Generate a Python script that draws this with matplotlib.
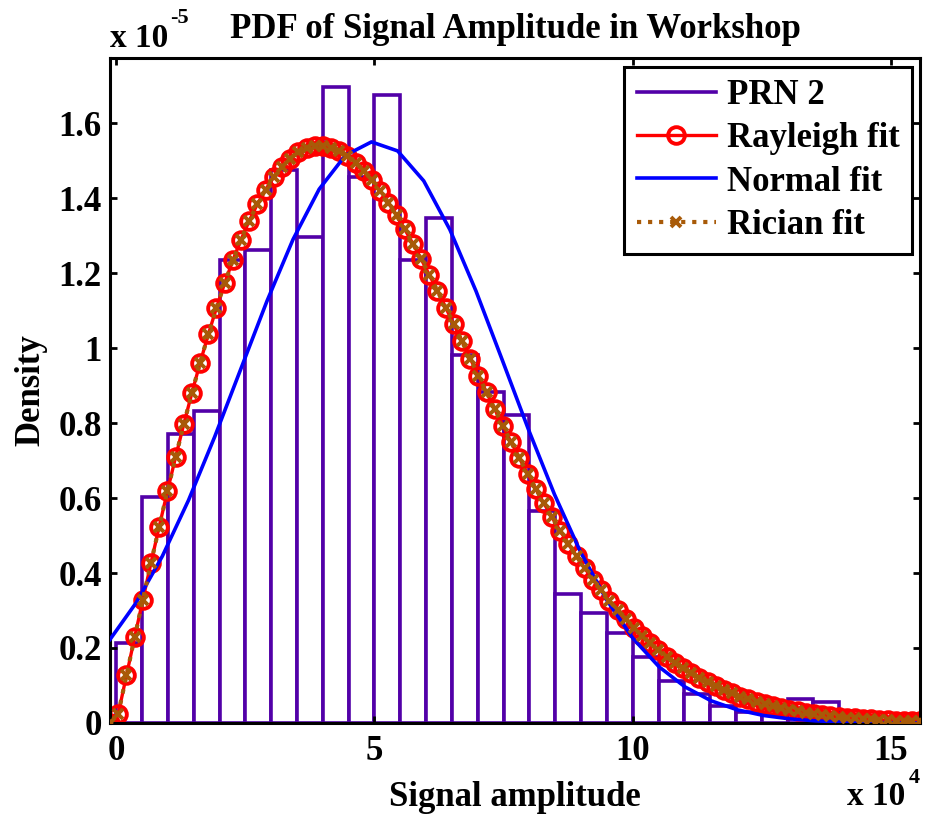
import matplotlib
matplotlib.use('Agg')
import matplotlib.pyplot as plt
from matplotlib.lines import Line2D
import numpy as np

plt.rcParams['font.family'] = ['Liberation Serif', 'DejaVu Serif']
plt.rcParams['font.weight'] = 'bold'

# amplitude in units of 1e4, density in units of 1e-5
bin_edges = np.arange(0, 15.51, 0.5)
prn2_density = [0.214, 0.602, 0.771, 0.833, 1.234, 1.262, 1.476, 1.297, 1.697, 1.456,
                1.674, 1.234, 1.346, 0.981, 0.883, 0.822, 0.565, 0.343, 0.293, 0.241,
                0.175, 0.112, 0.077, 0.045, 0.028, 0.020, 0.064, 0.057, 0.010, 0.006,
                0.004]

fit_x = np.linspace(-0.12, 15.57, 100)
rayleigh_pdf = [0.0, 0.0248, 0.1267, 0.2281, 0.3283, 0.4269, 0.5235, 0.6176, 0.7088, 0.7966,
                0.8807, 0.9607, 1.0363, 1.1073, 1.1732, 1.2341, 1.2896, 1.3396, 1.3841, 1.4229,
                1.4561, 1.4836, 1.5055, 1.5219, 1.5329, 1.5384, 1.5392, 1.5348, 1.5257, 1.5122,
                1.4947, 1.4732, 1.4479, 1.4196, 1.3879, 1.3538, 1.3170, 1.2785, 1.2377, 1.1956,
                1.1524, 1.1082, 1.0633, 1.0179, 0.9722, 0.9265, 0.8818, 0.8367, 0.7925, 0.7492,
                0.7067, 0.6653, 0.6251, 0.5860, 0.5484, 0.5122, 0.4774, 0.4441, 0.4123, 0.3821,
                0.3534, 0.3263, 0.3006, 0.2765, 0.2538, 0.2325, 0.2127, 0.1941, 0.1769, 0.1609,
                0.1461, 0.1324, 0.1197, 0.1081, 0.0974, 0.0876, 0.0787, 0.0705, 0.0631, 0.0564,
                0.0503, 0.0447, 0.0397, 0.0353, 0.0312, 0.0276, 0.0243, 0.0214, 0.0188, 0.0165,
                0.0145, 0.0127, 0.0111, 0.0096, 0.0084, 0.0073, 0.0063, 0.0055, 0.0047, 0.0041]
# rician fit collapses onto the rayleigh one (noncentrality ~ 0)
rician_pdf = list(rayleigh_pdf)

normal_x = np.linspace(-0.12, 15.57, 32)
normal_pdf = [0.223, 0.321, 0.445, 0.594, 0.763, 0.944, 1.125, 1.290, 1.424, 1.514,
              1.550, 1.526, 1.446, 1.316, 1.152, 0.969, 0.784, 0.610, 0.456, 0.328,
              0.226, 0.150, 0.096, 0.059, 0.035, 0.020, 0.011, 0.0056, 0.0028, 0.0014,
              0.0006, 0.0003]

purple = '#5200a8'
brown = '#a85a08'

fig = plt.figure(figsize=(9.25, 8.16), dpi=100)
ax = fig.add_axes([0.119, 0.114, 0.876, 0.815])

centres = (bin_edges[:-1] + bin_edges[1:]) / 2
ax.bar(centres, prn2_density, width=0.5, facecolor='white', edgecolor=purple,
       linewidth=2.6, zorder=1)
ax.plot(fit_x, rayleigh_pdf, '-o', color='red', lw=2.4, ms=12, mfc='none', mew=2.8, zorder=2)
ax.plot(normal_x, normal_pdf, '-', color='blue', lw=2.6, zorder=3)
ax.plot(fit_x, rician_pdf, ':x', color=brown, lw=3, ms=7, mew=2.8, zorder=4)

ax.set_xlim(-0.12, 15.57)
ax.set_ylim(0, 1.774)
ax.set_xticks([0, 5, 10, 15])
ax.set_xticklabels(['0', '5', '10', '15'])
ax.set_yticks([0, 0.2, 0.4, 0.6, 0.8, 1.0, 1.2, 1.4, 1.6])
ax.set_yticklabels(['0', '0.2', '0.4', '0.6', '0.8', '1', '1.2', '1.4', '1.6'])
ax.tick_params(direction='in', length=5, width=2, top=True, right=True, labelsize=25)
ax.tick_params(axis='x', pad=9)
ax.tick_params(axis='y', pad=6)
for s in ax.spines.values():
    s.set_linewidth(2.2)

ax.set_title('PDF of Signal Amplitude in Workshop', fontsize=25, fontweight='bold', pad=14)
ax.set_xlabel('Signal amplitude', fontsize=25, fontweight='bold', labelpad=9)
ax.set_ylabel('Density', fontsize=25, fontweight='bold', labelpad=8)

# axis multipliers
fig.text(0.119, 0.942, 'x 10', fontsize=24, va='baseline', ha='left')
fig.text(0.184, 0.972, '-5', fontsize=16, va='baseline', ha='left')
fig.text(0.916, 0.013, 'x 10', fontsize=24, va='baseline', ha='left')
fig.text(0.982, 0.041, '4', fontsize=16, va='baseline', ha='left')

handles = [
    Line2D([], [], color=purple, lw=2.6),
    Line2D([], [], color='red', lw=2.4, marker='o', ms=12, mfc='none', mew=2.8),
    Line2D([], [], color='blue', lw=2.6),
    Line2D([], [], color=brown, lw=3, ls=':', marker='x', ms=7, mew=2.8),
]
leg = ax.legend(handles, ['PRN 2', 'Rayleigh fit', 'Normal fit', 'Rician fit'],
                loc='upper right', fontsize=25, fancybox=False, framealpha=1,
                edgecolor='black', borderaxespad=0.25, handlelength=2.3,
                labelspacing=0.3, handletextpad=0.3, borderpad=0.35)
leg.get_frame().set_linewidth(2.2)

fig.savefig('out.png', dpi=100)
